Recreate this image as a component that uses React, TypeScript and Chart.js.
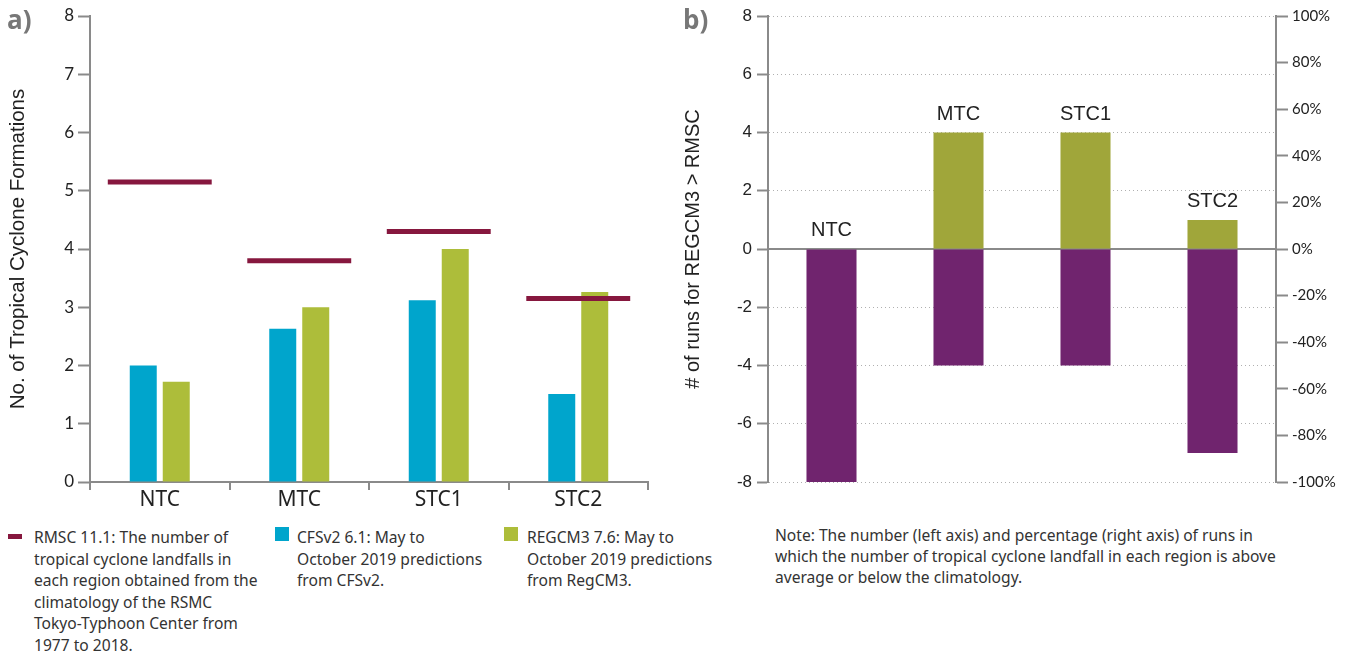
import React, { useEffect, useRef } from "react";
import { Chart, registerables } from "chart.js";

Chart.register(...registerables);

// ---------- data ----------
const categories = ["NTC", "MTC", "STC1", "STC2"];
const rsmcValues = [5.15, 3.8, 4.3, 3.15];
const cfsValues = [2.0, 2.63, 3.12, 1.51];
const regcmValues = [1.72, 3.0, 4.0, 3.26];
const runsAbove = [0, 4, 4, 1];
const runsBelow = [-8, -4, -4, -7];
const percentTicksSuffix = "%";

const leftAxisTitle = "No. of Tropical Cyclone Formations";
const rightAxisTitle = "# of runs for REGCM3 > RMSC";

const legendRsmc = [
  "RMSC 11.1: The number of",
  "tropical cyclone landfalls in",
  "each region obtained from the",
  "climatology of the RSMC",
  "Tokyo-Typhoon Center from",
  "1977 to 2018.",
];
const legendCfs = ["CFSv2 6.1: May to", "October 2019 predictions", "from CFSv2."];
const legendRegcm = ["REGCM3 7.6: May to", "October 2019 predictions", "from RegCM3."];
const noteLines = [
  "Note: The number (left axis) and percentage (right axis) of runs in",
  "which the number of tropical cyclone landfall in each region is above",
  "average or below the climatology.",
];

// ---------- styles ----------
const C_RSMC = "#86173E";
const C_CFS = "#00A5CC";
const C_REGCM = "#ADBD3A";
const C_ABOVE = "#A0A63A";
const C_BELOW = "#70246E";
const AXIS = "#8a8a8a";
const TEXT = "#222";
const HUM = "Lato, 'Open Sans', sans-serif";
const NOTO = "'Noto Sans', 'Open Sans', sans-serif";
const ARIAL = "'Liberation Sans', Arial, sans-serif";
const RSMC_HALF = 0.043;

const barLabelPlugin = {
  id: "barLabels",
  afterDatasetsDraw(chart: any) {
    const meta = chart.getDatasetMeta(0);
    const ctx = chart.ctx;
    ctx.save();
    ctx.font = `20px ${ARIAL}`;
    ctx.fillStyle = TEXT;
    ctx.textAlign = "center";
    ctx.textBaseline = "alphabetic";
    meta.data.forEach((el: any, i: number) => {
      const top = Math.min(el.y, el.base);
      ctx.fillText(String(chart.data.labels[i]), el.x, top - 13);
    });
    ctx.restore();
  },
};

function LeftChart() {
  const ref = useRef<HTMLCanvasElement>(null);
  useEffect(() => {
    const chart = new Chart(ref.current as HTMLCanvasElement, {
      type: "bar",
      data: {
        labels: categories,
        datasets: [
          {
            label: "RSMC",
            data: rsmcValues.map((v) => [v - RSMC_HALF, v + RSMC_HALF]) as any,
            backgroundColor: C_RSMC,
            grouped: false,
            categoryPercentage: 1,
            barPercentage: 0.745,
            order: 0,
          } as any,
          {
            label: "CFSv2",
            data: cfsValues,
            backgroundColor: C_CFS,
            categoryPercentage: 0.473,
            barPercentage: 0.818,
            order: 1,
          },
          {
            label: "REGCM3",
            data: regcmValues,
            backgroundColor: C_REGCM,
            categoryPercentage: 0.473,
            barPercentage: 0.818,
            order: 1,
          },
        ],
      },
      options: {
        animation: false,
        responsive: false,
        maintainAspectRatio: false,
        layout: { padding: { left: 0, right: 32, top: 16, bottom: 0 } },
        plugins: { legend: { display: false }, tooltip: { enabled: false } },
        scales: {
          x: {
            grid: {
              offset: true,
              drawOnChartArea: false,
              tickLength: 8,
              tickColor: AXIS,
              tickWidth: 2,
              lineWidth: 2,
              color: AXIS,
            },
            border: { color: AXIS, width: 2 },
            ticks: { font: { size: 21, family: NOTO }, color: TEXT, padding: -3 },
            afterFit: (s: any) => {
              s.height = 33;
            },
          },
          y: {
            min: 0,
            max: 8,
            ticks: { stepSize: 1, font: { size: 17, family: HUM }, color: TEXT, padding: 4 },
            grid: { drawOnChartArea: false, tickLength: 12, tickColor: AXIS, tickWidth: 2 },
            border: { color: AXIS, width: 2 },
            title: {
              display: true,
              text: leftAxisTitle,
              font: { size: 20.5, family: ARIAL },
              color: TEXT,
              padding: { top: 6, bottom: 0 },
            },
            afterFit: (s: any) => {
              s.width = 90;
            },
          },
        },
      },
    });
    return () => chart.destroy();
  }, []);
  return (
    <canvas
      ref={ref}
      width={680}
      height={515}
      style={{ position: "absolute", left: 0, top: 0, width: 680, height: 515 }}
    />
  );
}

function RightChart() {
  const ref = useRef<HTMLCanvasElement>(null);
  useEffect(() => {
    const chart = new Chart(ref.current as HTMLCanvasElement, {
      type: "bar",
      data: {
        labels: categories,
        datasets: [
          {
            label: "above",
            data: runsAbove,
            backgroundColor: C_ABOVE,
            stack: "s",
            categoryPercentage: 0.8,
            barPercentage: 0.4925,
          },
          {
            label: "below",
            data: runsBelow,
            backgroundColor: C_BELOW,
            stack: "s",
            categoryPercentage: 0.8,
            barPercentage: 0.4925,
          },
        ],
      },
      options: {
        animation: false,
        responsive: false,
        maintainAspectRatio: false,
        layout: { padding: { left: 0, right: 0, top: 16, bottom: 18 } },
        plugins: { legend: { display: false }, tooltip: { enabled: false } },
        scales: {
          x: {
            stacked: true,
            position: { y: 0 } as any,
            ticks: { display: false },
            grid: { display: false },
            border: { display: true, color: AXIS, width: 2 },
          },
          y: {
            stacked: true,
            position: "left",
            min: -8,
            max: 8,
            ticks: { stepSize: 2, font: { size: 17, family: ARIAL }, color: TEXT, padding: 5 },
            grid: {
              color: "#b0b0b0",
              lineWidth: 1,
              tickLength: 11,
              tickColor: AXIS,
              tickWidth: 2,
            },
            border: { color: AXIS, width: 2, dash: [1, 3] },
            title: {
              display: true,
              text: rightAxisTitle,
              font: { size: 20, family: ARIAL },
              color: TEXT,
              padding: { top: 1, bottom: 0 },
            },
            afterFit: (s: any) => {
              s.width = 88;
            },
          },
          y2: {
            position: "right",
            min: -100,
            max: 100,
            ticks: {
              stepSize: 20,
              font: { size: 15, family: HUM },
              color: TEXT,
              padding: 4,
              callback: (v: any) => `${v}${percentTicksSuffix}`,
            },
            grid: { drawOnChartArea: false, tickLength: 12, tickColor: AXIS, tickWidth: 2 },
            border: { color: AXIS, width: 2 },
            afterFit: (s: any) => {
              s.width = 73;
            },
          },
        },
      },
      plugins: [barLabelPlugin],
    });
    return () => chart.destroy();
  }, []);
  return (
    <canvas
      ref={ref}
      width={669}
      height={500}
      style={{ position: "absolute", left: 680, top: 0, width: 669, height: 500 }}
    />
  );
}

const textStyle: React.CSSProperties = {
  position: "absolute",
  fontFamily: NOTO,
  fontSize: 15.6,
  lineHeight: "21.5px",
  color: "#333",
  whiteSpace: "nowrap",
};

function Lines({ lines }: { lines: string[] }) {
  return (
    <>
      {lines.map((l, i) => (
        <div key={i}>{l}</div>
      ))}
    </>
  );
}

const panelLabel: React.CSSProperties = {
  position: "absolute",
  top: 1,
  fontFamily: "'Open Sans', sans-serif",
  fontWeight: 700,
  fontSize: 26,
  lineHeight: "36px",
  color: "#777",
};

export default function App() {
  return (
    <div
      style={{
        position: "absolute",
        left: 0,
        top: 0,
        width: 1349,
        height: 654,
        background: "#fff",
        overflow: "hidden",
      }}
    >
      <LeftChart />
      <RightChart />
      <div style={{ ...panelLabel, left: 7 }}>a)</div>
      <div style={{ ...panelLabel, left: 683 }}>b)</div>
      {/* legend */}
      <div style={{ position: "absolute", left: 8, top: 534, width: 14, height: 5, background: C_RSMC }} />
      <div style={{ ...textStyle, left: 34, top: 527 }}>
        <Lines lines={legendRsmc} />
      </div>
      <div style={{ position: "absolute", left: 275, top: 527, width: 14, height: 14, background: C_CFS }} />
      <div style={{ ...textStyle, left: 297, top: 527 }}>
        <Lines lines={legendCfs} />
      </div>
      <div style={{ position: "absolute", left: 504, top: 527, width: 14, height: 14, background: C_REGCM }} />
      <div style={{ ...textStyle, left: 527, top: 527 }}>
        <Lines lines={legendRegcm} />
      </div>
      <div style={{ ...textStyle, left: 775, top: 525, lineHeight: "21px" }}>
        <Lines lines={noteLines} />
      </div>
    </div>
  );
}
